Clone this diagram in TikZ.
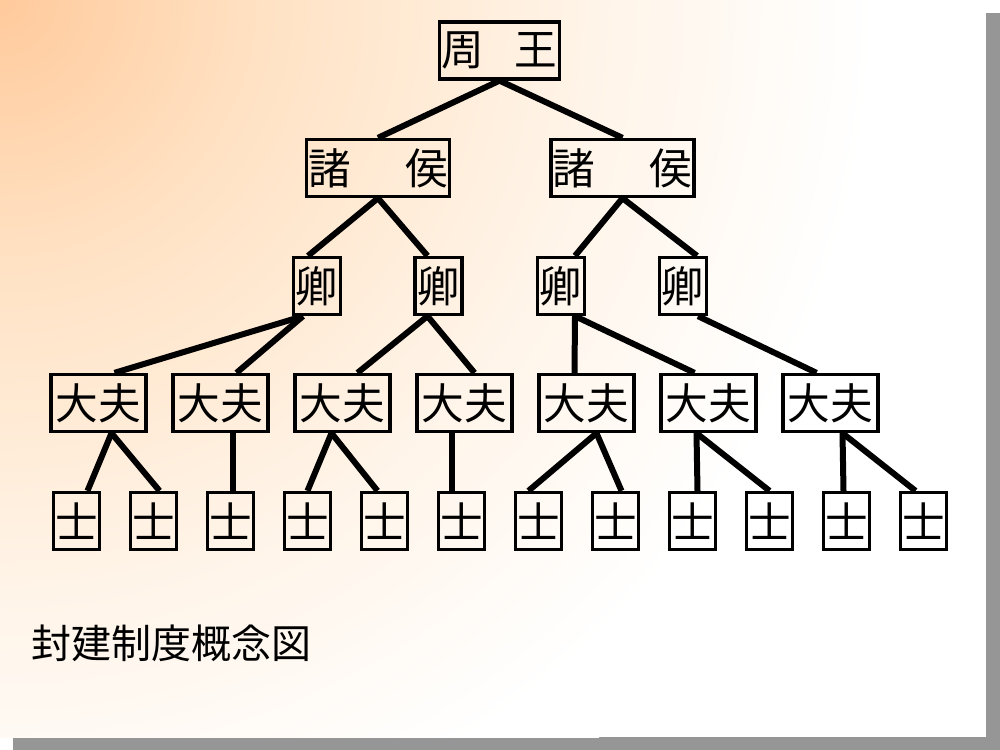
\documentclass[tikz,border=0pt]{standalone}
\usepackage{fontspec}
\newfontfamily\jp{Noto Sans CJK JP}
\usetikzlibrary{calc}
\definecolor{peach}{RGB}{255,202,156}
\definecolor{apricot}{RGB}{255,226,196}
\definecolor{cream}{RGB}{255,243,230}
\definecolor{shadowgray}{RGB}{150,150,150}
\pgfdeclareradialshading{slidebg}{\pgfpoint{0bp}{0bp}}{color(0bp)=(peach); color(7bp)=(apricot); color(15bp)=(cream); color(23bp)=(white); color(50bp)=(white)}
\tikzstyle{box}=[draw,line width=2.5pt,inner sep=0pt,minimum height=42.75pt,font=\jp\fontsize{32}{32}\selectfont]
\tikzstyle{king}=[box,minimum width=90pt]
\tikzstyle{lord}=[box,minimum width=107.25pt]
\tikzstyle{minister}=[box,minimum width=35.25pt]
\tikzstyle{officer}=[box,minimum width=71.25pt]
\tikzstyle{knight}=[box,minimum width=34.5pt]
\tikzstyle{link}=[line width=4.5pt]
\newcommand{\spread}[3]{\makebox[#1]{#2\hfill#3}}
\begin{document}
\begin{tikzpicture}[x=0.75pt,y=-0.75pt]
    \useasboundingbox (0,0) rectangle (1000,750);
    % slide with its shadow
    \fill[white] (0,0) rectangle (1000,750);
    \fill[shadowgray] (986,13) rectangle (1000,750);
    \fill[shadowgray] (13,737) rectangle (1000,750);
    \begin{scope}
        \clip (0,0) rectangle (986,737);
        \shade[shading=slidebg] (0,0) circle (950);
    \end{scope}
    % ranks
    \path (499.5,50.5) node[king] (K) {\spread{87pt}{周}{王}};
    \path (378,168) node[lord] (S1) {\spread{105pt}{諸}{侯}}
        ++ (244.5,0) node[lord] (S2) {\spread{105pt}{諸}{侯}};
    \path (317,286) node[minister] (Q1) {卿}
        ++ (121.5,0) node[minister] (Q2) {卿}
        ++ (122.5,0) node[minister] (Q3) {卿}
        ++ (122,0) node[minister] (Q4) {卿};
    \path (98.5,403) node[officer] (D1) {大夫}
        ++ (122,0) node[officer] (D2) {大夫}
        ++ (122,0) node[officer] (D3) {大夫}
        ++ (122,0) node[officer] (D4) {大夫}
        ++ (122,0) node[officer] (D5) {大夫}
        ++ (122,0) node[officer] (D6) {大夫}
        ++ (122,0) node[officer] (D7) {大夫};
    \path (76.5,521) node[knight] (T1) {士}
        ++ (77,0) node[knight] (T2) {士}
        ++ (77,0) node[knight] (T3) {士}
        ++ (77,0) node[knight] (T4) {士}
        ++ (77,0) node[knight] (T5) {士}
        ++ (77,0) node[knight] (T6) {士}
        ++ (77,0) node[knight] (T7) {士}
        ++ (77,0) node[knight] (T8) {士}
        ++ (77,0) node[knight] (T9) {士}
        ++ (77,0) node[knight] (T10) {士}
        ++ (77,0) node[knight] (T11) {士}
        ++ (77,0) node[knight] (T12) {士};
    % links
    \path[link] (K.south) edge (S1.north) edge (S2.north);
    \path[link] (S1.south) edge ($(Q1.north)+(-9,0)$) edge ($(Q2.north)+(-11,0)$);
    \path[link] (S2.south) edge ($(Q3.north)+(14,0)$) edge ($(Q4.north)+(14,0)$);
    \path[link] ($(Q1.south)+(-14,0)$) edge ($(D1.north)+(16,0)$) edge ($(D2.north)+(16,0)$);
    \path[link] ($(Q2.south)+(-11,0)$) edge ($(D3.north)+(15,0)$) edge ($(D4.north)+(10,0)$);
    \path[link] ($(Q3.south)+(14,0)$) edge ($(D5.north)+(-12,0)$) edge ($(D6.north)+(-14,0)$);
    \path[link] ($(Q4.south)+(15,0)$) edge ($(D7.north)+(-14,0)$);
    \path[link] ($(D1.south)+(13,0)$) edge ($(T1.north)+(11,0)$) edge ($(T2.north)+(6,0)$);
    \path[link] ($(D2.south)+(12,0)$) edge ($(T3.north)+(2,0)$);
    \path[link] ($(D3.south)+(-11,0)$) edge (T4.north) edge ($(T5.north)+(-7,0)$);
    \path[link] ($(D4.south)+(-13,0)$) edge ($(T6.north)+(-10,0)$);
    \path[link] ($(D5.south)+(10,0)$) edge ($(T7.north)+(-10,0)$) edge ($(T8.north)+(6,0)$);
    \path[link] ($(D6.south)+(-12,0)$) edge ($(T9.north)+(5,0)$) edge (T10.north);
    \path[link] ($(D7.south)+(12,0)$) edge ($(T11.north)+(-3,0)$) edge ($(T12.north)+(-8,0)$);
    % caption
    \node[anchor=west,font=\jp\fontsize{30}{30}\selectfont] (title) at (27,643) {封建制度概念図};
\end{tikzpicture}
\end{document}
